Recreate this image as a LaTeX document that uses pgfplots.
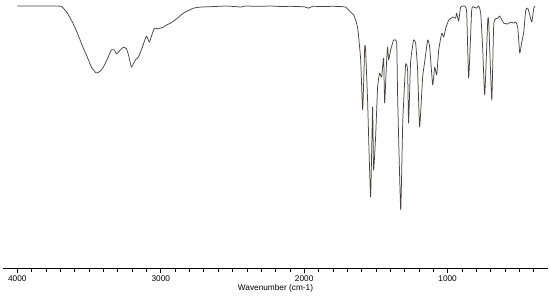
\documentclass[border=0pt]{standalone}
\usepackage{pgfplots}
\pgfplotsset{compat=1.18}
\usepackage{fontspec}
\setmainfont{Liberation Sans}
\definecolor{spec}{HTML}{4A4242}
\begin{document}
\begin{tikzpicture}
\begin{axis}[
  scale only axis, width=545bp, height=268bp,
  x dir=reverse, xmin=300, xmax=4100,
  ymin=0.4, ymax=102.3,
  axis x line=bottom, axis y line=none,
  axis line style={-, black, line width=0.6pt},
  xtick={1000,2000,3000,4000},
  minor xtick={400,500,...,3900},
  tick align=outside,
  major tick length=4.5bp, minor tick length=3.5bp,
  tick style={black, line width=0.6pt},
  xticklabel style={font=\fontsize{8.3}{10}\selectfont, yshift=0bp},
  /pgf/number format/assume math mode=true,
  /pgf/number format/1000 sep={},
  xlabel={Wavenumber (cm-1)},
  xlabel style={font=\fontsize{8.3}{10}\selectfont, yshift=4bp},
  clip=false,
]
\addplot[spec, line width=0.75pt, line join=round, smooth, tension=0.25] coordinates {
(4000,100)(3714,100)(3686,99.6)(3651,97.3)(3616,93.9)(3581,89.7)(3546,84.8)
(3512,80.6)(3484,76.8)(3449,74.5)(3421,75.3)(3400,76.8)(3372,79.9)(3344,83.3)
(3323,83.3)(3309,81.8)(3288,82.9)(3260,84.4)(3239,83.7)(3225,81.4)(3205,76.8)
(3191,78.0)(3177,79.5)(3156,80.6)(3128,84.4)(3100,88.6)(3079,86.3)(3058,89.7)
(3044,91.6)(3023,91.3)(3002,91.6)(2981,92.0)(2960,92.8)(2932,93.5)(2884,95.4)
(2842,97.3)(2814,98.1)(2772,99.2)(2723,99.6)(2632,99.8)(2549,100)(2480,99.8)
(2444,99.6)(2409,100)(2330,99.9)(2235,100)(2150,99.8)(2095,99.9)(2000,99.7)
(1969,99.2)(1941,99.9)(1880,99.8)(1800,99.9)(1746,99.8)(1711,99.6)(1676,97.7)
(1655,96.6)(1640,94.5)(1627,91.6)(1620,88.2)(1606,79.5)(1592,60.5)(1578,84.4)
(1572,83.3)(1558,64.3)(1537,27.4)(1523,61.6)(1516,37.7)(1502,50.2)(1488,69.2)
(1474,74.5)(1460,73.0)(1446,80.2)(1439,63.1)(1425,79.5)(1418,84.4)(1411,79.5)
(1397,83.3)(1376,87.1)(1355,85.9)(1348,64.3)(1327,22.5)(1313,55.5)(1293,77.6)
(1279,75.7)(1272,55.5)(1258,78.7)(1237,87.1)(1223,85.9)(1209,75.7)(1195,54.0)
(1174,73.0)(1160,78.7)(1139,87.1)(1125,84.4)(1104,70.0)(1090,76.8)(1076,73.8)
(1062,83.3)(1041,89.7)(1027,88.2)(1013,91.6)(992,94.7)(964,95.8)(944,95.4)
(937,97.3)(923,94.3)(909,99.6)(881,100)(867,97.7)(853,72.6)(832,98.5)
(818,99.6)(797,99.2)(783,100)(769,97.3)(755,83.3)(741,66.2)(720,94.7)
(713,93.5)(692,64.3)(678,93.5)(650,95.4)(637,96.2)(609,93.5)(581,93.2)
(560,93.9)(539,93.5)(525,93.9)(511,92.0)(497,82.1)(483,86.3)(469,90.1)
(455,98.5)(441,99.2)(427,96.6)(413,93.9)(399,99.2)(390,100)
};
\end{axis}
\path (current axis.south west) ++(-3bp,-27bp) (current axis.north east) ++(2bp,0);
\end{tikzpicture}
\end{document}
